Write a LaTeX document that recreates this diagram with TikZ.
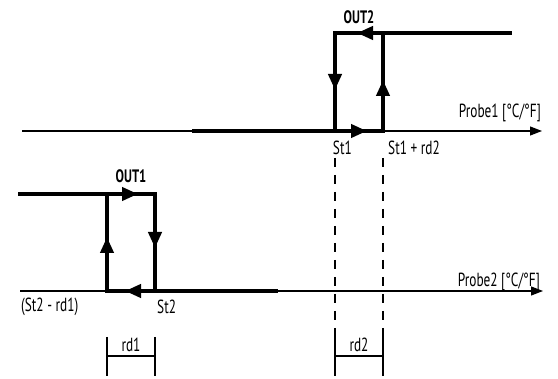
\documentclass[tikz,border=0pt]{standalone}
\usepackage{fontspec}
\setmainfont{PT Sans}[FakeStretch=0.7]
\usetikzlibrary{arrows.meta,decorations.markings}
\begin{document}
\begin{tikzpicture}[x=1pt,y=-1pt,
  thickline/.style={line width=4pt},
  axisline/.style={line width=1.2pt,-{Triangle[length=12pt,width=9pt]}},
  dashline/.style={line width=1.1pt,dash pattern=on 9pt off 8pt},
  brk/.style={line width=1.2pt},
  lbl/.style={font=\fontsize{19}{19}\selectfont,inner sep=0pt},
  outlbl/.style={font=\fontsize{18}{18}\selectfont\bfseries,inner sep=0pt},
  loopmarks/.style n args={4}{postaction={decorate},decoration={markings,
    mark=at position #1 with {\arrow{Triangle[length=16pt,width=13pt]}},
    mark=at position #2 with {\arrow{Triangle[length=16pt,width=13pt]}},
    mark=at position #3 with {\arrow{Triangle[length=16pt,width=13pt]}},
    mark=at position #4 with {\arrow{Triangle[length=16pt,width=13pt]}}}}]
\useasboundingbox (0,0) rectangle (558,379);

% coordinates
\coordinate (a1s) at (22,131);
\coordinate (a1e) at (542,131);
\coordinate (a2s) at (20,291);
\coordinate (a2e) at (543,291);

% axes
\draw[axisline] (a1s) -- (a1e);
\draw[axisline] (a2s) -- (a2e);

% top hysteresis loop (OUT2)
\coordinate (t1) at (383,33);
\coordinate (t2) at (335,33);
\coordinate (t3) at (335,131);
\coordinate (t4) at (383,131);
\coordinate (tl) at (192,131);
\coordinate (tr) at (512,33);
\draw[thickline] (tl) -- (t3);
\draw[thickline] (t1) -- (tr);
\draw[thickline,line join=miter,loopmarks={26pt}{105pt}{178pt}{245pt}]
  (t1) -- (t2) -- (t3) -- (t4) -- cycle;

% bottom hysteresis loop (OUT1)
\coordinate (b1) at (107,194);
\coordinate (b2) at (155,194);
\coordinate (b3) at (155,291);
\coordinate (b4) at (107,291);
\coordinate (bl) at (18,194);
\coordinate (br) at (278,291);
\draw[thickline] (bl) -- (b1);
\draw[thickline] (b3) -- (br);
\draw[thickline,line join=miter,loopmarks={31pt}{102pt}{175pt}{247pt}]
  (b1) -- (b2) -- (b3) -- (b4) -- cycle;

% dashed guides
\coordinate (d1s) at (335,158);
\coordinate (d1e) at (335,340);
\coordinate (d2s) at (383,158);
\coordinate (d2e) at (383,340);
\draw[dashline] (d1s) -- (d1e);
\draw[dashline] (d2s) -- (d2e);

% rd2 bracket
\coordinate (r2a) at (335,337);
\coordinate (r2b) at (335,376);
\coordinate (r2c) at (383,337);
\coordinate (r2d) at (383,376);
\coordinate (r2l) at (335,356);
\coordinate (r2r) at (383,356);
\draw[brk] (r2a) -- (r2b);
\draw[brk] (r2c) -- (r2d);
\draw[brk] (r2l) -- (r2r);

% rd1 bracket
\coordinate (r1a) at (107,337);
\coordinate (r1b) at (107,376);
\coordinate (r1c) at (155,337);
\coordinate (r1d) at (155,376);
\coordinate (r1l) at (107,356);
\coordinate (r1r) at (155,356);
\draw[brk] (r1a) -- (r1b);
\draw[brk] (r1c) -- (r1d);
\draw[brk] (r1l) -- (r1r);

% labels
\node[outlbl] (out2) at (359,17) {OUT2};
\node[outlbl] (out1) at (131,176) {OUT1};
\node[lbl,anchor=east] (p1) at (541,113) {Probe1 [°C/°F]};
\node[lbl,anchor=east] (p2) at (540,282) {Probe2 [°C/°F]};
\node[lbl,anchor=east] (st1) at (352,148) {St1};
\node[lbl,anchor=west] (st1rd2) at (388,148) {St1 + rd2};
\node[lbl,anchor=west] (st2rd1) at (21,307) {(St2 - rd1)};
\node[lbl,anchor=west] (st2) at (157,307) {St2};
\node[lbl] (rd1) at (131,345) {rd1};
\node[lbl] (rd2) at (359,345) {rd2};
\end{tikzpicture}
\end{document}
